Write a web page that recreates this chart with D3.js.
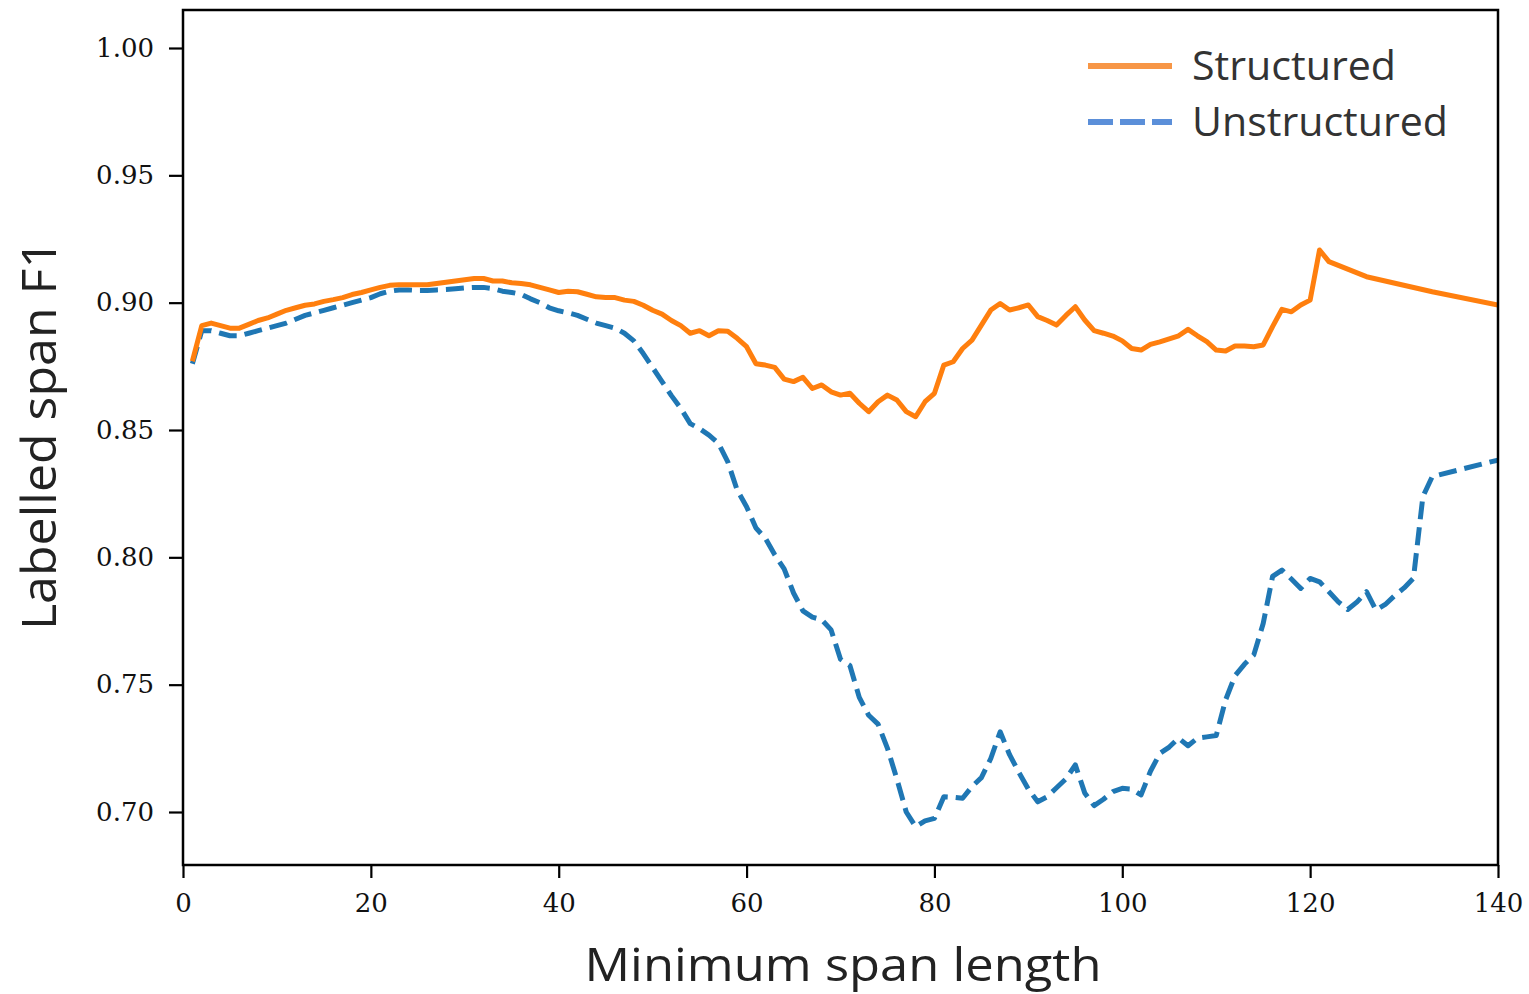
<!DOCTYPE html>
<html><head><meta charset="utf-8">
<script src="https://cdn.jsdelivr.net/npm/d3@7"></script>
<style>body{margin:0;background:#fff}</style>
</head><body>
<svg id="c" width="1529" height="994"></svg>
<script>
const xStructured = [1,2,3,4,5,6,7,8,9,10,11,12,13,14,15,16,17,18,19,20,21,22,23,24,25,26,27,28,29,30,31,32,33,34,35,36,37,38,39,40,41,42,43,44,45,46,47,48,49,50,51,52,53,54,55,56,57,58,59,60,61,62,63,64,65,66,67,68,69,70,71,72,73,74,75,76,77,78,79,80,81,82,83,84,85,86,87,88,89,90,91,92,93,94,95,96,97,98,99,100,101,102,103,104,105,106,107,108,109,110,111,112,113,114,115,116,117,118,119,120,121,122,126,133,140];
const structured = [0.877,0.891,0.892,0.891,0.890,0.890,0.8915,0.893,0.894,0.8955,0.897,0.898,0.899,0.8995,0.9005,0.9012,0.902,0.9032,0.904,0.905,0.906,0.9068,0.907,0.907,0.907,0.907,0.9075,0.908,0.9085,0.909,0.9095,0.9095,0.9085,0.9085,0.9078,0.9075,0.907,0.906,0.905,0.904,0.9045,0.9043,0.9033,0.9023,0.902,0.902,0.901,0.9005,0.899,0.897,0.8955,0.893,0.891,0.888,0.889,0.887,0.889,0.8888,0.886,0.8827,0.876,0.8755,0.8746,0.870,0.869,0.8707,0.8663,0.8677,0.865,0.8637,0.8644,0.8605,0.8572,0.8611,0.8637,0.8618,0.8572,0.8552,0.8611,0.8644,0.8755,0.8768,0.882,0.8853,0.8912,0.8971,0.8997,0.8971,0.898,0.8991,0.8945,0.893,0.8912,0.895,0.8984,0.8932,0.889,0.888,0.8869,0.885,0.882,0.8814,0.8836,0.8846,0.8858,0.887,0.8895,0.887,0.8847,0.8814,0.881,0.883,0.883,0.8827,0.8834,0.8906,0.8974,0.8964,0.8991,0.901,0.9207,0.9161,0.9102,0.9043,0.8991];
const xUnstructured = [1,2,3,4,5,6,7,8,9,10,11,12,13,14,15,16,17,18,19,20,21,22,23,24,25,26,27,28,29,30,31,32,33,34,35,36,37,38,39,40,41,42,43,44,45,46,47,48,49,50,51,52,53,54,55,56,57,58,59,60,61,62,63,64,65,66,67,68,69,70,71,72,73,74,75,76,77,78,79,80,81,82,83,84,85,86,87,88,89,90,91,92,93,94,95,96,97,98,99,100,101,102,103,104,105,106,107,108,109,110,111,112,113,114,115,116,117,118,119,120,121,122,123,124,125,126,127,128,129,130,131,132,133,140];
const unstructured = [0.876,0.889,0.889,0.888,0.887,0.887,0.888,0.889,0.890,0.891,0.892,0.8935,0.895,0.896,0.897,0.898,0.899,0.900,0.901,0.902,0.9035,0.9045,0.905,0.905,0.9048,0.9048,0.905,0.9052,0.9055,0.9058,0.906,0.906,0.9055,0.9045,0.904,0.9033,0.9015,0.900,0.898,0.8968,0.896,0.895,0.8935,0.892,0.891,0.890,0.888,0.885,0.880,0.8745,0.869,0.8635,0.8585,0.8525,0.8505,0.848,0.8448,0.8375,0.8264,0.8199,0.8115,0.8075,0.801,0.7955,0.786,0.779,0.7765,0.7755,0.7715,0.760,0.7575,0.745,0.738,0.7345,0.725,0.713,0.700,0.6942,0.6965,0.6975,0.706,0.7058,0.7054,0.710,0.7135,0.721,0.7315,0.7225,0.7155,0.709,0.704,0.706,0.7095,0.713,0.7185,0.7075,0.7025,0.705,0.708,0.7093,0.709,0.7067,0.716,0.723,0.7255,0.729,0.726,0.729,0.7295,0.730,0.744,0.7535,0.758,0.7617,0.774,0.7925,0.795,0.7915,0.7878,0.7917,0.7904,0.7865,0.7825,0.7795,0.7825,0.7865,0.7793,0.7815,0.785,0.788,0.7918,0.8238,0.8317,0.8382];
const xTicks = [0,20,40,60,80,100,120,140];
const yTicks = [0.70,0.75,0.80,0.85,0.90,0.95,1.00];
const seriesNames = ["Structured","Unstructured"];
const xLabel = "Minimum span length";
const yLabel = "Labelled span F1";

const svg = d3.select("#c");
const L = 183, R = 1498, T = 10, B = 865;
const x = d3.scaleLinear().domain([0,140]).range([L,R]);
const y = d3.scaleLinear().domain([0.70,1.00]).range([812,48]);

svg.append("clipPath").attr("id","clp").append("rect")
  .attr("x",L).attr("y",T).attr("width",R-L).attr("height",B-T);

const tickFont = "'DejaVu Serif', serif";
const gx = svg.append("g").attr("transform",`translate(0,${B})`)
  .call(d3.axisBottom(x).tickValues(xTicks).tickFormat(d3.format("d")).tickSize(13).tickPadding(16));
const gy = svg.append("g").attr("transform",`translate(${L},0)`)
  .call(d3.axisLeft(y).tickValues(yTicks).tickFormat(d3.format(".2f")).tickSize(14).tickPadding(15));
[gx,gy].forEach(g=>{
  g.select(".domain").remove();
  g.selectAll("line").attr("stroke","#000").attr("stroke-width",2.2);
  g.selectAll("text").attr("font-family",tickFont).attr("font-size",26).attr("fill","#111");
});

const line = d3.line().x(d=>x(d[0])).y(d=>y(d[1]));
const sData = xStructured.map((v,i)=>[v,structured[i]]);
const uData = xUnstructured.map((v,i)=>[v,unstructured[i]]);
svg.append("path").datum(uData).attr("d",line).attr("clip-path","url(#clp)")
  .attr("fill","none").attr("stroke","#1f77b4").attr("stroke-width",5)
  .attr("stroke-dasharray","18,8").attr("stroke-linejoin","round");
svg.append("path").datum(sData).attr("d",line).attr("clip-path","url(#clp)")
  .attr("fill","none").attr("stroke","#ff7f0e").attr("stroke-width",5)
  .attr("stroke-linejoin","round");

svg.append("rect").attr("x",L).attr("y",T).attr("width",R-L).attr("height",B-T)
  .attr("fill","none").attr("stroke","#000").attr("stroke-width",2.5);

const labFont = "'Open Sans', 'Noto Sans', sans-serif";
svg.append("text").attr("x",843).attr("y",981).attr("text-anchor","middle")
  .attr("font-family",labFont).attr("font-size",46).attr("fill","#222")
  .attr("textLength",517).attr("lengthAdjust","spacingAndGlyphs").text(xLabel);
svg.append("text").attr("transform","translate(56,435) rotate(-90)").attr("text-anchor","middle")
  .attr("font-family",labFont).attr("font-size",48).attr("fill","#222")
  .attr("textLength",390).attr("lengthAdjust","spacingAndGlyphs").text(yLabel);

// legend
const legColors = ["#f79646","#5b8fd9"];
const legDash = [null,"25,7"];
const legY = [66,122];
const legLen = [204,256];
seriesNames.forEach((n,i)=>{
  svg.append("line").attr("x1",1088).attr("x2",1172).attr("y1",legY[i]).attr("y2",legY[i])
    .attr("stroke",legColors[i]).attr("stroke-width",6).attr("stroke-dasharray",legDash[i]);
  svg.append("text").attr("x",1192).attr("y",legY[i]+14)
    .attr("font-family",labFont).attr("font-size",40).attr("fill","#333")
    .attr("textLength",legLen[i]).attr("lengthAdjust","spacingAndGlyphs").text(n);
});
</script>
</body></html>
